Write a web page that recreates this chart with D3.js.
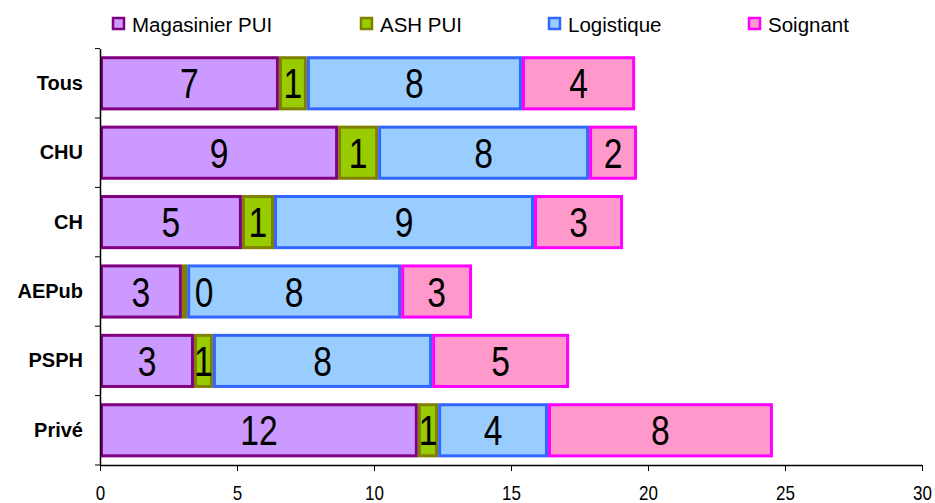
<!DOCTYPE html>
<html><head><meta charset="utf-8">
<script src="https://cdn.jsdelivr.net/npm/d3@7"></script>
<style>body{margin:0;background:#fff}svg{display:block}</style>
</head><body>
<script>
const categories = ["Tous","CHU","CH","AEPub","PSPH","Privé"];
const seriesNames = ["Magasinier PUI","ASH PUI","Logistique","Soignant"];
const magasinier = [6.53, 8.69, 5.18, 2.99, 3.43, 11.6];
const ash        = [1.02, 1.46, 1.17, 0.19, 0.69, 0.74];
const logistique = [7.85, 7.70, 9.49, 7.81, 8.00, 4.01];
const soignant   = [4.13, 1.75, 3.25, 2.59, 5.00, 8.21];
const xTicks = [0,5,10,15,20,25,30];
const fills   = ["#CC99FF","#99CC00","#99CCFF","#FF99CC"];
const strokes = ["#800080","#808000","#3366FF","#FF00FF"];

const W=935,H=503;
const FONT="Arial, 'Liberation Sans', sans-serif";
const svg=d3.select("body").append("svg").attr("width",W).attr("height",H);
const x=d3.scaleLinear().domain([0,30]).range([100,922]);
const y=d3.scaleBand().domain(categories).range([48.6,465]).paddingInner(0.22).paddingOuter(0.11);

const seriesVals=[magasinier,ash,logistique,soignant];
const rows=categories.map((c,i)=>{const o={cat:c};seriesNames.forEach((s,j)=>o[s]=seriesVals[j][i]);return o;});
const stack=d3.stack().keys(seriesNames)(rows);

const g=svg.append("g");
stack.forEach((layer,j)=>{
  g.append("g").selectAll("rect").data(layer).join("rect")
    .attr("x",d=>x(d[0])+1.5).attr("y",d=>y(d.data.cat)+1.5)
    .attr("width",d=>Math.max(0,x(d[1])-x(d[0])-3)).attr("height",y.bandwidth()-3)
    .attr("fill",fills[j]).attr("stroke",strokes[j]).attr("stroke-width",3);
});
const SX=0.8;
stack.forEach((layer,j)=>{
  g.append("g").selectAll("text").data(layer).join("text")
    .attr("transform",d=>{
      const w=x(d[1])-x(d[0]);
      const cx=w<12 ? x(d[1])+17 : (x(d[0])+x(d[1]))/2;
      const cy=y(d.data.cat)+y.bandwidth()/2;
      return `translate(${cx},${cy}) scale(${SX},1)`;
    })
    .attr("dy","0.36em").attr("text-anchor","middle")
    .attr("font-family",FONT)
    .attr("font-size",42).attr("fill","#000")
    .text(d=>Math.round(d[1]-d[0]));
});

// axes
const xa=svg.append("g").attr("transform","translate(0,465)")
  .call(d3.axisBottom(x).tickValues(xTicks).tickSize(6).tickSizeOuter(0).tickFormat(d3.format("d")));
xa.select(".domain").attr("stroke","#000").attr("stroke-width",1.5);
xa.selectAll(".tick line").attr("stroke","#000");
xa.selectAll(".tick text").attr("y",0).attr("dy",0)
  .attr("transform","translate(0,35) scale(0.85,1)")
  .attr("font-family",FONT).attr("font-size",20).attr("fill","#000");

const ya=svg.append("g").attr("transform","translate(100,0)")
  .call(d3.axisLeft(y).tickSize(0).tickPadding(17));
ya.select(".domain").attr("stroke","#000").attr("stroke-width",1.5);
ya.selectAll(".tick text").attr("font-family",FONT).attr("font-weight","bold").attr("font-size",20).attr("fill","#000");
const bounds=categories.map(c=>y(c)-y.step()*y.paddingInner()/2).concat([465]);
ya.selectAll("line.sep").data(bounds).join("line").attr("class","sep")
  .attr("x1",-5).attr("x2",0).attr("y1",d=>d).attr("y2",d=>d).attr("stroke","#000");

// legend
const legX=[112,360,548,748];
const leg=svg.append("g");
seriesNames.forEach((s,j)=>{
  leg.append("rect").attr("x",legX[j]+1).attr("y",18).attr("width",11).attr("height",11)
    .attr("fill",fills[j]).attr("stroke",strokes[j]).attr("stroke-width",2.5);
  leg.append("text").attr("x",legX[j]+20).attr("y",31.5)
    .attr("font-family",FONT).attr("font-size",20.5).attr("fill","#000").text(s);
});
</script>
</body></html>
